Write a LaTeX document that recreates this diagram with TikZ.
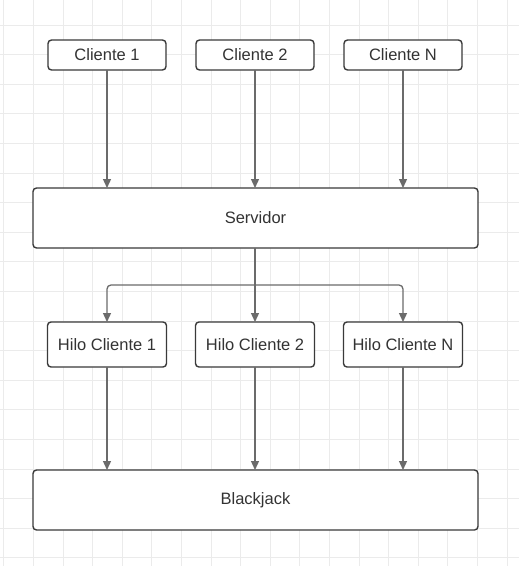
\documentclass[tikz,border=0pt]{standalone}
\usepackage{fontspec}
\setmainfont{Liberation Sans}
\usepackage{tikz}
\usetikzlibrary{positioning}
\usetikzlibrary{calc}
\usetikzlibrary{arrows.meta}
\definecolor{boxline}{HTML}{3A3A3A}
\definecolor{flowline}{HTML}{6B6B6B}
\definecolor{gridline}{HTML}{EBEBEB}
\definecolor{labeltext}{HTML}{333333}
\tikzstyle{box}=[draw=boxline,line width=1.4pt,rounded corners=3.5pt,fill=white,text=labeltext,inner sep=0pt,outer sep=0pt,align=center]
\tikzstyle{small}=[box,minimum width=118pt,minimum height=30pt]
\tikzstyle{hilo}=[box,minimum width=119pt,minimum height=45pt]
\tikzstyle{wide}=[box,minimum width=445pt,minimum height=60pt]
\tikzstyle{flow}=[draw=flowline,line width=1.3pt,-{Triangle[length=9pt,width=8pt]}]

\begin{document}
\begin{tikzpicture}[x=1pt,y=-1pt,font=\fontsize{16.5}{20}\selectfont,node distance=30pt]
	\useasboundingbox (0,0) rectangle (519,566);
	\fill[white] (0,0) rectangle (519,566);
	% grid
	\foreach \k in {-1,...,16}
		\draw[gridline,line width=1pt] ({33.5+29.6*\k},0) -- ({33.5+29.6*\k},566);
	\foreach \k in {0,...,18}
		\draw[gridline,line width=1pt] (0,{25+29.6*\k}) -- (519,{25+29.6*\k});

	\node[small] (cliente2) at (255,55) {Cliente 2};
	\node[small,left=of cliente2] (cliente1) {Cliente 1};
	\node[small,right=of cliente2] (clienteN) {Cliente N};
	\node[wide,below=118pt of cliente2,xshift=0.5pt] (servidor) {Servidor};
	\node[hilo,below=74pt of servidor.south -| cliente2,anchor=north] (hilo2) {Hilo Cliente 2};
	\node[hilo,left=29pt of hilo2] (hilo1) {Hilo Cliente 1};
	\node[hilo,right=29pt of hilo2] (hiloN) {Hilo Cliente N};
	\node[wide,below=103pt of hilo2.south -| servidor,anchor=north] (blackjack) {Blackjack};

	% clientes -> servidor
	\draw[flow] (cliente1.south) -- (cliente1.south |- servidor.north);
	\draw[flow] (cliente2.south) -- (cliente2.south |- servidor.north);
	\draw[flow] (clienteN.south) -- (clienteN.south |- servidor.north);

	% servidor -> hilos
	\coordinate (split) at ($(servidor.south -| hilo2)!0.5!(hilo2.north)$);
	\draw[flow] (servidor.south -| hilo2) -- (hilo2.north);
	\draw[flow,rounded corners=4pt] (split) -| (hilo1.north);
	\draw[flow,rounded corners=4pt] (split) -| (hiloN.north);

	% hilos -> blackjack
	\draw[flow] (hilo1.south) -- (hilo1.south |- blackjack.north);
	\draw[flow] (hilo2.south) -- (hilo2.south |- blackjack.north);
	\draw[flow] (hiloN.south) -- (hiloN.south |- blackjack.north);
\end{tikzpicture}
\end{document}
